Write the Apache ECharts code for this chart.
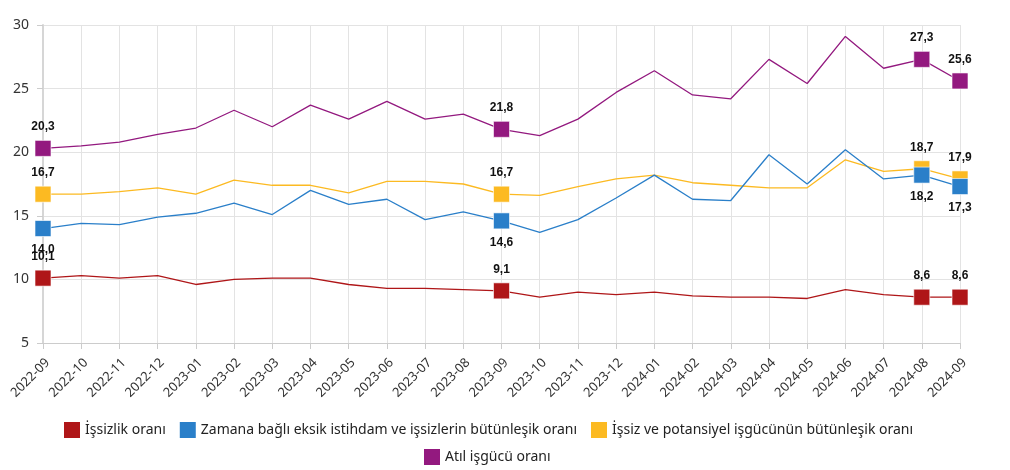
<!DOCTYPE html>
<html>
<head>
<meta charset="utf-8">
<script src="https://cdn.jsdelivr.net/npm/echarts@6/dist/echarts.min.js"></script>
<style>html,body{margin:0;padding:0;background:#fff}#c{width:1010px;height:470px}</style>
</head>
<body>
<div id="c"></div>
<script>
const categories = ['2022-09','2022-10','2022-11','2022-12','2023-01','2023-02','2023-03','2023-04','2023-05','2023-06','2023-07','2023-08','2023-09','2023-10','2023-11','2023-12','2024-01','2024-02','2024-03','2024-04','2024-05','2024-06','2024-07','2024-08','2024-09'];
const issizlik = [10.1,10.3,10.1,10.3,9.6,10.0,10.1,10.1,9.6,9.3,9.3,9.2,9.1,8.6,9.0,8.8,9.0,8.7,8.6,8.6,8.5,9.2,8.8,8.6,8.6];
const zamana = [14.0,14.4,14.3,14.9,15.2,16.0,15.1,17.0,15.9,16.3,14.7,15.3,14.6,13.7,14.7,16.4,18.2,16.3,16.2,19.8,17.5,20.2,17.9,18.2,17.3];
const potansiyel = [16.7,16.7,16.9,17.2,16.7,17.8,17.4,17.4,16.8,17.7,17.7,17.5,16.7,16.6,17.3,17.9,18.2,17.6,17.4,17.2,17.2,19.4,18.5,18.7,17.9];
const atil = [20.3,20.5,20.8,21.4,21.9,23.3,22.0,23.7,22.6,24.0,22.6,23.0,21.8,21.3,22.6,24.7,26.4,24.5,24.2,27.3,25.4,29.1,26.6,27.3,25.6];
const markedIdx = [0,12,23,24];
const seriesNames = ['İşsizlik oranı','Zamana bağlı eksik istihdam ve işsizlerin bütünleşik oranı','İşsiz ve potansiyel işgücünün bütünleşik oranı','Atıl işgücü oranı'];
const colors = ['#AF1618','#2A7FC9','#FCBA22','#93197F'];
const labelPos = ['top','bottom','top','top'];
const zOrder = [5,3,2,4];
const yTicks = {min:5, max:30, interval:5};

function build(vals, i){
  return vals.map((v, k) => {
    if (markedIdx.indexOf(k) >= 0) {
      return {value: v, symbol: 'rect', symbolSize: 16,
        itemStyle:{color: colors[i], borderColor:'rgba(255,255,255,0.6)', borderWidth:1},
        label:{show:true, position: labelPos[i], distance: 7,
          formatter: p => Number(p.value).toFixed(1).replace('.', ','),
          fontFamily:'Liberation Sans, Arial', fontWeight:'bold', fontSize:12, color:'#111'}};
    }
    return {value: v, symbol: 'none'};
  });
}
const allVals = [issizlik, zamana, potansiyel, atil];
const legendText = {fontFamily:'Noto Sans, Open Sans, sans-serif', fontSize:14, color:'#222'};
const chart = echarts.init(document.getElementById('c'), null, {renderer:'canvas'});
chart.setOption({
  animation:false,
  color: colors,
  grid:{left:43, right:50, top:25, bottom:127},
  legend:[{
    data: seriesNames.slice(0,3).map((n,i)=>({name:n, icon:'rect', itemStyle:{color:colors[i]}})),
    top: 422, left: 64, itemWidth:16, itemHeight:16, itemGap:14, padding:0,
    textStyle: legendText
  },{
    data: [{name:seriesNames[3], icon:'rect', itemStyle:{color:colors[3]}}],
    top: 449, left: 424, itemWidth:16, itemHeight:16, itemGap:14, padding:0,
    textStyle: legendText
  }],
  xAxis:{
    type:'category', data: categories, boundaryGap:false,
    axisLine:{show:true, lineStyle:{color:'#ccc', width:1}},
    axisTick:{show:true, alignWithLabel:true, length:6, lineStyle:{color:'#ccc'}},
    splitLine:{show:true, lineStyle:{color:'#e3e3e3', width:1}},
    axisLabel:{rotate:45, interval:0, verticalAlign:'top', fontFamily:'Noto Sans, Open Sans, sans-serif', fontSize:13, color:'#333', margin:13}
  },
  yAxis:{
    type:'value', min:yTicks.min, max:yTicks.max, interval:yTicks.interval,
    axisLine:{show:true, lineStyle:{color:'#d6d6d6', width:2}},
    axisTick:{show:true, length:6, lineStyle:{color:'#ccc'}},
    splitLine:{show:true, lineStyle:{color:'#e3e3e3', width:1}},
    axisLabel:{fontFamily:'Noto Sans, Open Sans, sans-serif', fontSize:14, color:'#333', margin:14}
  },
  series: allVals.map((vals,i)=>({
    name: seriesNames[i], type:'line', data: build(vals,i),
    showSymbol:true, symbol:'none',
    lineStyle:{width:1.3, color: colors[i]},
    itemStyle:{color: colors[i]},
    emphasis:{disabled:true}, z: zOrder[i]
  }))
});
</script>
</body>
</html>
